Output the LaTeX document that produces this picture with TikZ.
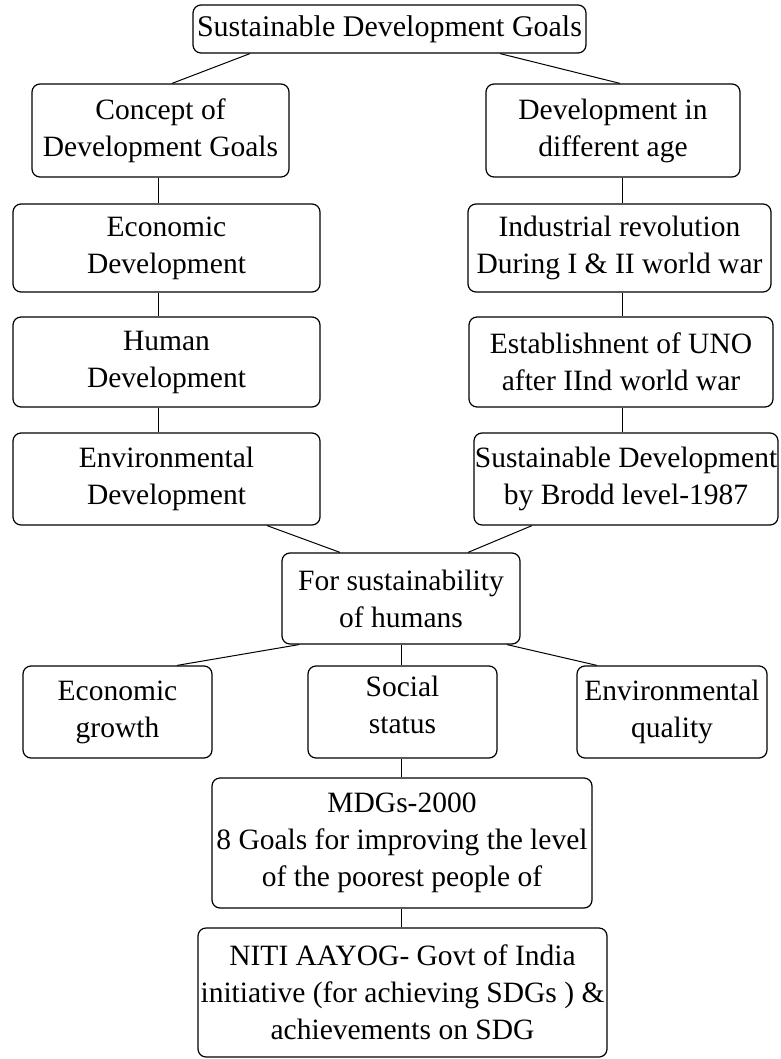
\documentclass[tikz,border=0pt]{standalone}
\usepackage{fontspec}
\setmainfont{Liberation Serif}
\begin{document}
\begin{tikzpicture}[x=1pt,y=-1pt,
  box/.style={draw=black, line width=1.2pt, rounded corners=8pt, inner sep=0pt, align=center,
    font=\fontsize{29.5}{37}\selectfont},
  link/.style={draw=black, line width=1pt}]
\useasboundingbox (0,0) rectangle (780,1059);
% nodes
\node[box, minimum width=393pt, minimum height=48pt, font=\fontsize{30}{37}\selectfont] (top) at (389.5,29) {Sustainable Development Goals};
\node[box, minimum width=257pt, minimum height=93pt] (concept) at (160.5,130.5) {Concept of\\Development Goals};
\node[box, minimum width=254pt, minimum height=93pt] (age) at (613,130.5) {Development in\\different age};
\node[box, minimum width=307pt, minimum height=88pt] (econ) at (166.5,248) {Economic\\Development};
\node[box, minimum width=307pt, minimum height=90pt] (human) at (166.5,362) {Human\\Development};
\node[box, minimum width=307pt, minimum height=92pt] (envdev) at (166.5,479) {Environmental\\Development};
\node[box, minimum width=303pt, minimum height=88pt] (ind) at (619.5,248) {Industrial revolution\\During I \& II world war};
\node[box, minimum width=304pt, minimum height=90pt] (uno) at (621,362) {Establishnent of UNO\\after IInd world war};
\node[box, minimum width=304pt, minimum height=92pt] (brodd) at (626,479) {Sustainable Development\\by Brodd level-1987};
\node[box, minimum width=238pt, minimum height=91pt] (forsus) at (401,598.5) {For sustainability\\of humans};
\node[box, minimum width=189pt, minimum height=92pt] (egrowth) at (117.5,712) {Economic\\growth};
\node[box, minimum width=189pt, minimum height=92pt] (social) at (402.5,712) {Social\\status\rule[-14pt]{0pt}{1pt}};
\node[box, minimum width=190pt, minimum height=92pt] (envq) at (672,712) {Environmental\\quality};
\node[box, minimum width=380pt, minimum height=130pt] (mdg) at (402,843) {MDGs-2000\\8 Goals for improving the level\\of the poorest people of};
\node[box, minimum width=409pt, minimum height=129pt] (niti) at (402.5,992.5) {NITI AAYOG- Govt of India\\initiative (for achieving SDGs ) \&\\achievements on SDG};
% connectors
\draw[link] ([xshift=-139.5pt]top.south) -- ([xshift=11.5pt]concept.north);
\draw[link] ([xshift=110.5pt]top.south) -- ([xshift=7pt]age.north);
\draw[link] ([xshift=-2.5pt]concept.south) -- ([xshift=-8.5pt]econ.north);
\draw[link] ([xshift=-8.5pt]econ.south) -- ([xshift=-8.5pt]human.north);
\draw[link] ([xshift=-8.5pt]human.south) -- ([xshift=-8.5pt]envdev.north);
\draw[link] ([xshift=9pt]age.south) -- ([xshift=2.5pt]ind.north);
\draw[link] ([xshift=2.5pt]ind.south) -- ([xshift=1pt]uno.north);
\draw[link] ([xshift=1pt]uno.south) -- ([xshift=-4pt]brodd.north);
\draw[link] ([xshift=100.5pt]envdev.south) -- ([xshift=-61pt]forsus.north);
\draw[link] ([xshift=-94pt]brodd.south) -- ([xshift=67pt]forsus.north);
\draw[link] ([xshift=-102pt]forsus.south) -- ([xshift=59.5pt]egrowth.north);
\draw[link] (forsus.south) -- ([xshift=-1.5pt]social.north);
\draw[link] ([xshift=106pt]forsus.south) -- ([xshift=-75pt]envq.north);
\draw[link] ([xshift=-1.5pt]social.south) -- ([xshift=-1pt]mdg.north);
\draw[link] ([xshift=-1pt]mdg.south) -- ([xshift=-1.5pt]niti.north);
\end{tikzpicture}
\end{document}
